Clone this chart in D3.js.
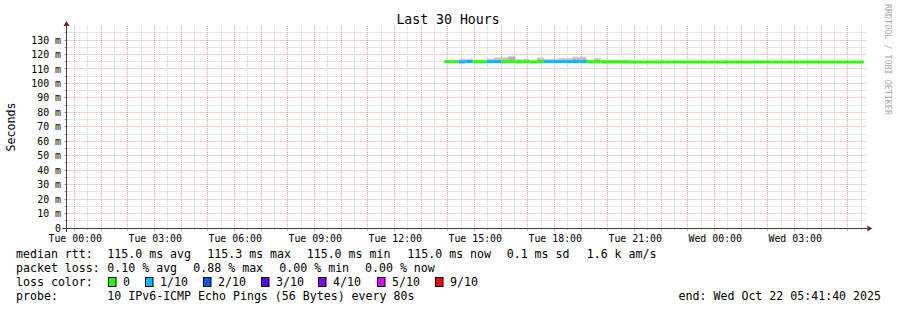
<!DOCTYPE html>
<html><head><meta charset="utf-8">
<script src="https://cdn.jsdelivr.net/npm/d3@7"></script>
<style>
html,body{margin:0;padding:0;background:#fff;}
svg{display:block;font-family:"DejaVu Sans Mono",monospace;}
</style></head><body>
<svg id="c" width="897" height="310"></svg>
<script>
// ---------- data ----------
const title = "Last 30 Hours";
const yAxisTitle = "Seconds";
const watermark = "RRDTOOL / TOBI OETIKER";
const endTime = Date.UTC(2025, 9, 22, 5, 41, 40);
const spanHours = 30;
const yTickValues = [0,10,20,30,40,50,60,70,80,90,100,110,120,130];
const yTickLabels = ["0","10 m","20 m","30 m","40 m","50 m","60 m","70 m","80 m","90 m","100 m","110 m","120 m","130 m"];
const xTickTimes = [Date.UTC(2025,9,21,0),Date.UTC(2025,9,21,3),Date.UTC(2025,9,21,6),Date.UTC(2025,9,21,9),Date.UTC(2025,9,21,12),Date.UTC(2025,9,21,15),Date.UTC(2025,9,21,18),Date.UTC(2025,9,21,21),Date.UTC(2025,9,22,0),Date.UTC(2025,9,22,3)];
const xTickLabels = ["Tue 00:00","Tue 03:00","Tue 06:00","Tue 09:00","Tue 12:00","Tue 15:00","Tue 18:00","Tue 21:00","Wed 00:00","Wed 03:00"];

const sampleStart = Date.UTC(2025, 9, 21, 13, 52, 0);
const sampleStepMin = 16;
const median = [115.0,115.0,114.8,115.1,115.0,115.0,115.0,115.0,115.0,115.0,
                114.8,115.0,114.8,115.0,115.0,115.0,115.0,115.0,115.0,115.0,
                115.0,115.0,114.8,114.8,114.8,114.8,114.8,114.8,114.8,114.8,
                114.8,114.8,114.8,114.8,114.8,114.8,114.8,114.8,114.8,114.8,
                114.8,114.8,114.8,114.8,114.8,114.8,114.8,114.8,114.8,114.8,
                114.8,114.8,114.8,114.8,114.8,114.8,114.8,114.8,114.8];
const lossCount = [0,0,1,1,0,0,1,1,0,0,
                   0,0,0,0,1,1,1,1,1,1,
                   0,0,0,0,0,0,0,0,0,0,
                   0,0,0,0,0,0,0,0,0,0,
                   0,0,0,0,0,0,0,0,0,0,
                   0,0,0,0,0,0,0,0,0];
const smokeTop = [115.3,116.2,117.0,117.0,116.2,115.5,117.0,118.0,118.0,118.5,
                  116.9,116.9,115.8,118.0,116.9,116.9,117.4,117.4,118.5,118.5,
                  116.5,117.5,116.5,116.2,116.2,116.2,114.8,114.8,114.8,114.8,
                  114.8,114.8,114.8,114.8,114.8,114.8,114.8,114.8,114.8,114.8,
                  114.8,114.8,114.8,114.8,114.8,114.8,114.8,114.8,114.8,114.8,
                  114.8,114.8,114.8,114.8,114.8,114.8,114.8,114.8,114.8];
const smokeInner = [115.0,115.0,114.8,115.1,115.0,115.0,115.0,116.5,116.5,118.5,
                    114.8,115.0,114.8,116.5,115.0,115.0,116.0,116.0,117.0,117.0,
                    115.0,116.0,114.8,114.8,114.8,114.8,114.8,114.8,114.8,114.8,
                    114.8,114.8,114.8,114.8,114.8,114.8,114.8,114.8,114.8,114.8,
                    114.8,114.8,114.8,114.8,114.8,114.8,114.8,114.8,114.8,114.8,
                    114.8,114.8,114.8,114.8,114.8,114.8,114.8,114.8,114.8];

const lossLabels = ["0","1/10","2/10","3/10","4/10","5/10","9/10"];
const lossCountsForLegend = [0,1,2,3,4,5,9];
const lossColors = ["#26ff00","#00b8ff","#0059ff","#5e00ff","#7e00ff","#dd00ff","#ff0000"];
const statRtt = ["median rtt:","115.0 ms avg","115.3 ms max","115.0 ms min","115.0 ms now","0.1 ms sd","1.6 k am/s"];
const statLoss = ["packet loss:","0.10 % avg","0.88 % max","0.00 % min","0.00 % now"];
const lossTitle = "loss color:";
const probeRow = ["probe:","10 IPv6-ICMP Echo Pings (56 Bytes) every 80s"];
const endLabel = "end: Wed Oct 22 05:41:40 2025";

// ---------- layout ----------
const X0 = 66.3, W = 800, Y0 = 228, H = 200;
const yMax = 138.3;
const rttX = [16,107.3,207.3,306.7,407.3,506.7,586.7];
const lossX = [16,107.3,193.3,279.3,365];
const boxX = [108.5,145.5,203.5,261.5,318.5,377.5,435.5];
const rowY = [257.7,271.8,286,300];

const svg = d3.select("#c");
const start = endTime - spanHours*3600e3;
const x = d3.scaleUtc().domain([new Date(start), new Date(endTime)]).range([X0, X0+W]);
const y = d3.scaleLinear().domain([0, yMax]).range([Y0, Y0-H]);
const crisp = v => Math.round(v - 0.5) + 0.5;

const gridMinor = "#cfcfcf", gridMajor = "#f3a3a3";
const g = svg.append("g");

// horizontal grid: minor every 5, major every 10
const hLines = d3.range(5, yMax, 5);
hLines.forEach(v => {
  const major = v % 10 === 0;
  const yy = crisp(y(v));
  g.append("line").attr("x1", crisp(X0)+1).attr("x2", X0+W).attr("y1", yy).attr("y2", yy)
    .attr("stroke", major ? gridMajor : gridMinor).attr("stroke-dasharray", "1,1");
  g.append("line").attr("x1", crisp(X0)-2).attr("x2", crisp(X0)).attr("y1", yy).attr("y2", yy)
    .attr("stroke", major ? "#b08080" : "#aaaaaa");
});
// vertical grid: minor every 30 min, major every hour
const t0 = Math.ceil(start/1800e3)*1800e3;
for (let t = t0; t <= endTime; t += 1800e3) {
  const major = (t % 3600e3) === 0;
  const xx = crisp(x(new Date(t)));
  g.append("line").attr("x1", xx).attr("x2", xx).attr("y1", Y0-H-2).attr("y2", Y0)
    .attr("stroke", major ? gridMajor : gridMinor).attr("stroke-dasharray", "1,1");
  g.append("line").attr("x1", xx).attr("x2", xx).attr("y1", Y0).attr("y2", Y0+ (major?3:2))
    .attr("stroke", major ? "#e88a8a" : "#bbbbbb");
}

// smoke
const stepMs = sampleStepMin*60e3;
const sx = i => x(new Date(sampleStart + i*stepMs));
const smoke = svg.append("g");
smokeTop.forEach((v, i) => {
  if (v > median[i]) {
    smoke.append("rect").attr("x", sx(i)).attr("width", sx(i+1)-sx(i))
      .attr("y", y(v)).attr("height", y(median[i]) - y(v)).attr("fill", "#cacaca");
  }
});
smokeInner.forEach((v, i) => {
  if (v > median[i]) {
    smoke.append("rect").attr("x", sx(i)).attr("width", sx(i+1)-sx(i))
      .attr("y", y(v)).attr("height", y(median[i]) - y(v)).attr("fill", "#b4b4b4");
  }
});

// median line coloured by loss
const colorOf = c => lossColors[Math.max(0, lossCountsForLegend.indexOf(c))];
const ln = svg.append("g");
median.forEach((v, i) => {
  ln.append("line").attr("x1", sx(i)).attr("x2", sx(i+1)).attr("y1", y(v)).attr("y2", y(v))
    .attr("stroke", colorOf(lossCount[i])).attr("stroke-width", 3);
});

// axes
const axisCol = "#404040", arrowCol = "#7f1f1f";
const ax = crisp(X0), ay = crisp(Y0);
svg.append("line").attr("x1", ax-4).attr("x2", X0+W+1).attr("y1", ay).attr("y2", ay).attr("stroke", axisCol);
svg.append("line").attr("x1", ax).attr("x2", ax).attr("y1", Y0+4).attr("y2", Y0-H-2).attr("stroke", axisCol);
svg.append("path").attr("d", `M${X0+W+1},${ay-3}L${X0+W+6},${ay}L${X0+W+1},${ay+3}Z`).attr("fill", arrowCol);
svg.append("path").attr("d", `M${ax-3},${Y0-H-2}L${ax},${Y0-H-7}L${ax+3},${Y0-H-2}Z`).attr("fill", arrowCol);

// y tick labels
yTickValues.forEach((v, i) => {
  svg.append("text").attr("x", 61).attr("y", y(v)+3.6).attr("text-anchor", "end")
    .attr("font-size", "9.9px").attr("fill", "#000").text(yTickLabels[i]);
});
// x tick labels
xTickTimes.forEach((t, i) => {
  svg.append("text").attr("x", x(new Date(t))+0.8).attr("y", 241.7).attr("text-anchor", "middle")
    .attr("font-size", "9.9px").attr("fill", "#000").text(xTickLabels[i]);
});

// title
svg.append("text").attr("x", 448).attr("y", 24).attr("text-anchor", "middle")
  .attr("font-size", "13.2px").attr("fill", "#000").text(title);
// y axis title
svg.append("text").attr("transform", "translate(15,127) rotate(-90)").attr("text-anchor", "middle")
  .attr("font-size", "11.6px").attr("fill", "#000").text(yAxisTitle);
// watermark
svg.append("text").attr("transform", "translate(884.5,4) rotate(90)").attr("text-anchor", "start")
  .attr("font-size", "8.4px").attr("fill", "#a8a8a8").text(watermark);

// legend
const fs = "11.6px";
statRtt.forEach((s, i) => svg.append("text").attr("x", rttX[i]).attr("y", rowY[0]).attr("font-size", fs).text(s));
statLoss.forEach((s, i) => svg.append("text").attr("x", lossX[i]).attr("y", rowY[1]).attr("font-size", fs).text(s));
svg.append("text").attr("x", 16).attr("y", rowY[2]).attr("font-size", fs).text(lossTitle);
lossLabels.forEach((s, i) => {
  svg.append("rect").attr("x", boxX[i]).attr("y", rowY[2]-8.5).attr("width", 7.5).attr("height", 9)
    .attr("fill", lossColors[i]).attr("stroke", "#000").attr("stroke-width", 1);
  svg.append("text").attr("x", boxX[i]+14.5).attr("y", rowY[2]).attr("font-size", fs).text(s);
});
svg.append("text").attr("x", 16).attr("y", rowY[3]).attr("font-size", fs).text(probeRow[0]);
svg.append("text").attr("x", 107.3).attr("y", rowY[3]).attr("font-size", fs).text(probeRow[1]);
svg.append("text").attr("x", 881).attr("y", rowY[3]).attr("text-anchor", "end").attr("font-size", fs).text(endLabel);
</script>
</body></html>
